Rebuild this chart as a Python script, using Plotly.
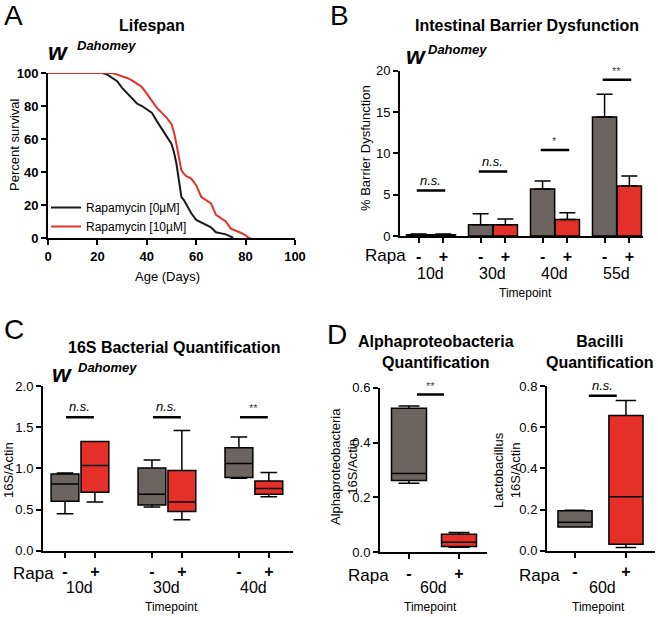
import plotly.graph_objects as go

W, H = 658, 617
FONT = "Liberation Sans, Arial, sans-serif"
GRIS = "#6b6461"
ROJO = "#e5302a"

# ---------------------------
# DATOS
# ---------------------------
# A. Supervivencia (edad en días, % supervivencia)
edad_0 = [0, 22, 24, 26, 28, 30, 32, 34, 36, 38, 40, 42, 44, 46, 48, 50, 51, 52,
          53, 54, 55, 56, 58, 60, 62, 64, 66, 68, 70, 72, 74, 75]
superv_0 = [100, 100, 99, 97, 95, 91, 88, 85, 81.5, 80, 78, 76, 71, 66.5, 62, 57, 52, 45,
            35, 25, 23, 20, 15, 11, 9.5, 8.5, 6.5, 3.5, 2.8, 2.2, 0.8, 0]
edad_10 = [0, 26, 28, 30, 32, 34, 36, 38, 40, 42, 44, 46, 48, 50, 51, 52, 53, 54, 55,
           56, 58, 60, 62, 64, 66, 68, 70, 72, 74, 76, 78, 80, 81, 82]
superv_10 = [100, 100, 99, 98, 97, 95.5, 93.5, 91.5, 87.5, 83.5, 79, 76, 73, 69, 64, 57, 48, 41, 39,
             37.5, 36, 32, 25, 23, 21, 14, 12, 10, 5.7, 4.6, 3.2, 1.6, 0.3, 0]

# B. Disfunción de barrera
tiempos_b = ["10d", "30d", "40d", "55d"]
barrera_ctrl = [0.15, 1.35, 5.7, 14.4]
barrera_ctrl_err = [0.1, 1.35, 0.95, 2.75]
barrera_rapa = [0.15, 1.35, 2.0, 6.05]
barrera_rapa_err = [0.1, 0.7, 0.8, 1.2]
sig_b = ["n.s.", "n.s.", "*", "**"]
sig_b_y = [5.5, 7.8, 10.4, 18.9]

# C. 16S (min, q1, mediana, q3, max)
tiempos_c = ["10d", "30d", "40d"]
c_ctrl_min = [0.45, 0.53, 0.88]
c_ctrl_q1 = [0.60, 0.555, 0.89]
c_ctrl_med = [0.81, 0.685, 1.06]
c_ctrl_q3 = [0.93, 1.005, 1.25]
c_ctrl_max = [0.945, 1.10, 1.38]
c_rapa_min = [0.59, 0.375, 0.655]
c_rapa_q1 = [0.71, 0.475, 0.685]
c_rapa_med = [1.035, 0.59, 0.755]
c_rapa_q3 = [1.325, 0.975, 0.845]
c_rapa_max = [1.325, 1.46, 0.95]
sig_c = ["n.s.", "n.s.", "**"]
sig_c_y = [1.62, 1.62, 1.62]

# D. 60d (min, q1, mediana, q3, max)
alfa_ctrl = [0.252, 0.262, 0.287, 0.525, 0.533]
alfa_rapa = [0.018, 0.021, 0.037, 0.066, 0.072]
bac_ctrl = [0.115, 0.115, 0.138, 0.194, 0.196]
bac_rapa = [0.016, 0.031, 0.262, 0.657, 0.729]


def px(x):
    return x / W


def py(y):
    return 1 - y / H


def eje(**kw):
    d = dict(showline=True, linecolor="black", linewidth=2, ticks="outside", ticklen=5,
             tickwidth=2, tickcolor="black", showgrid=False, zeroline=False, automargin=False,
             tickfont=dict(family=FONT, size=13, color="black"))
    d.update(kw)
    return d


anots = []
formas = []


def texto(t, x, y, size=12, bold=False, italic=False, xref="paper", yref="paper",
          angle=0, color="black", **kw):
    if xref == "paper":
        x = px(x)
    if yref == "paper":
        y = py(y)
    a = dict(text=t, x=x, y=y, xref=xref, yref=yref, showarrow=False,
             textangle=angle, xanchor="center", yanchor="middle",
             font=dict(family=FONT, size=size, color=color,
                       weight="bold" if bold else "normal",
                       style="italic" if italic else "normal"))
    a.update(kw)
    anots.append(a)


def linea_sig(x0, x1, y, ejx, ejy):
    formas.append(dict(type="line", x0=x0, x1=x1, y0=y, y1=y, xref=ejx, yref=ejy,
                       line=dict(color="black", width=2.5)))


fig = go.Figure()

# ---------------------------
# A. LIFESPAN
# ---------------------------
fig.add_trace(go.Scatter(x=edad_0, y=superv_0, mode="lines", name="Rapamycin [0µM]",
                         line=dict(color="#1a1a1a", width=2), xaxis="x", yaxis="y"))
fig.add_trace(go.Scatter(x=edad_10, y=superv_10, mode="lines", name="Rapamycin [10µM]",
                         line=dict(color=ROJO, width=2), xaxis="x", yaxis="y"))

# ---------------------------
# B. BARRERA
# ---------------------------
gb = list(range(len(tiempos_b)))
fig.add_trace(go.Bar(x=[g - 0.2 for g in gb], y=barrera_ctrl, width=0.39,
                     marker=dict(color=GRIS, line=dict(color="black", width=1.5)),
                     error_y=dict(type="data", symmetric=False, array=barrera_ctrl_err,
                                  arrayminus=[0] * len(gb), color="black", thickness=1.5, width=8),
                     xaxis="x2", yaxis="y2", showlegend=False))
fig.add_trace(go.Bar(x=[g + 0.2 for g in gb], y=barrera_rapa, width=0.39,
                     marker=dict(color=ROJO, line=dict(color="black", width=1.5)),
                     error_y=dict(type="data", symmetric=False, array=barrera_rapa_err,
                                  arrayminus=[0] * len(gb), color="black", thickness=1.5, width=8),
                     xaxis="x2", yaxis="y2", showlegend=False))
for g, s, yy in zip(gb, sig_b, sig_b_y):
    linea_sig(g - 0.23, g + 0.23, yy, "x2", "y2")
    texto(s, g, yy, size=13 if s == "n.s." else 11, italic=(s == "n.s."),
          xref="x2", yref="y2", yanchor="bottom", yshift=1,
          color="black" if s == "n.s." else "#444")


# ---------------------------
# C y D. CAJAS
# ---------------------------
def caja(x, mn, q1, med, q3, mx, color, ejx, ejy, ancho):
    fig.add_trace(go.Box(x=x, lowerfence=mn, q1=q1, median=med, q3=q3, upperfence=mx,
                         width=ancho, fillcolor=color, whiskerwidth=0.6, boxpoints=False,
                         line=dict(color="black", width=1.5), xaxis=ejx, yaxis=ejy,
                         showlegend=False, hoverinfo="skip"))


gc = list(range(len(tiempos_c)))
caja([g - 0.172 for g in gc], c_ctrl_min, c_ctrl_q1, c_ctrl_med, c_ctrl_q3, c_ctrl_max,
     GRIS, "x3", "y3", 0.32)
caja([g + 0.172 for g in gc], c_rapa_min, c_rapa_q1, c_rapa_med, c_rapa_q3, c_rapa_max,
     ROJO, "x3", "y3", 0.32)
for g, s, yy in zip(gc, sig_c, sig_c_y):
    linea_sig(g - 0.16, g + 0.16, yy, "x3", "y3")
    texto(s, g, yy, size=13 if s == "n.s." else 11, italic=(s == "n.s."),
          xref="x3", yref="y3", yanchor="bottom", yshift=1,
          color="black" if s == "n.s." else "#444")

caja([0], *[[v] for v in alfa_ctrl], GRIS, "x4", "y4", 0.7)
caja([1], *[[v] for v in alfa_rapa], ROJO, "x4", "y4", 0.7)
linea_sig(0.16, 0.7, 0.575, "x4", "y4")
texto("**", 0.43, 0.575, size=11, xref="x4", yref="y4", yanchor="bottom", yshift=1, color="#444")

caja([0], *[[v] for v in bac_ctrl], GRIS, "x5", "y5", 0.67)
caja([1], *[[v] for v in bac_rapa], ROJO, "x5", "y5", 0.67)
linea_sig(0.27, 0.82, 0.753, "x5", "y5")
texto("n.s.", 0.545, 0.753, size=13, italic=True, xref="x5", yref="y5", yanchor="bottom", yshift=1)

# ---------------------------
# TEXTOS
# ---------------------------
for letra, x, y in [("A", 13, 16), ("B", 339, 16), ("C", 14, 329), ("D", 337, 334)]:
    texto(letra, x, y, size=28)

texto("Lifespan", 152, 25, size=16, bold=True)
texto("Intestinal Barrier Dysfunction", 527, 25, size=16, bold=True)
texto("16S Bacterial Quantification", 174, 347, size=16, bold=True)
texto("Alphaproteobacteria<br>Quantification", 436, 352, size=16, bold=True)
texto("Bacilli<br>Quantification", 600, 352, size=16, bold=True)

for wx, wy, dx, dy in [(58, 51, 106, 46), (416, 55, 457, 49), (62, 373, 107, 367)]:
    texto("w", wx, wy, size=24, bold=True, italic=True)
    texto("Dahomey", dx, dy, size=13, bold=True, italic=True)

texto("Percent survival", 14, 145, size=13, angle=-90)
texto("Age (Days)", 167, 276, size=13)
texto("% Barrier Dysfunction", 365, 148, size=13, angle=-90)
texto("16S/Actin", 8, 470, size=13, angle=-90)
texto("Alphaproteobacteria<br>16S/Actin", 344, 467, size=13, angle=-90)
texto("Lactobacillus<br>16S/Actin", 507, 470, size=13, angle=-90)

for x, y in [(385, 255), (33, 573), (368, 575), (539, 575)]:
    texto("Rapa", x, y, size=17)
for g, t in zip(gb, tiempos_b):
    texto(t, g, 273, size=16, xref="x2")
for g, t in zip(gc, tiempos_c):
    texto(t, g, 587, size=16, xref="x3")
texto("60d", 433, 587, size=16)
texto("60d", 602, 587, size=16)
for x, y in [(525, 293), (171, 607), (430, 607), (598, 607)]:
    texto("Timepoint", x, y, size=12)

# ---------------------------
# EJES
# ---------------------------
negrita = dict(family=FONT, size=13, color="black", weight="bold")
signos = dict(family=FONT, size=16, color="black", weight="bold")

fig.update_layout(
    width=W, height=H, margin=dict(l=0, r=0, t=0, b=0, autoexpand=False),
    paper_bgcolor="white", plot_bgcolor="white", barmode="overlay", boxmode="overlay",
    font=dict(family=FONT, color="black"),
    xaxis=eje(domain=[px(48), px(295)], range=[0, 100], dtick=20, tickfont=negrita, anchor="y"),
    yaxis=eje(domain=[py(238), py(73)], range=[0, 100], dtick=20, tickfont=negrita, anchor="x"),
    xaxis2=eje(domain=[px(400), px(643)], range=[-0.5, 3.42], anchor="y2",
               tickvals=[g - 0.2 for g in gb] + [g + 0.2 for g in gb],
               ticktext=["-"] * len(gb) + ["+"] * len(gb), tickfont=signos),
    yaxis2=eje(domain=[py(236), py(70.7)], range=[0, 20], dtick=5, anchor="x2"),
    xaxis3=eje(domain=[px(43), px(293)], range=[-0.425, 2.45], anchor="y3",
               tickvals=[g - 0.172 for g in gc] + [g + 0.172 for g in gc],
               ticktext=["-"] * len(gc) + ["+"] * len(gc), tickfont=signos),
    yaxis3=eje(domain=[py(550.7), py(386)], range=[0, 2], dtick=0.5, tickformat=".1f", anchor="x3"),
    xaxis4=eje(domain=[px(380), px(487)], range=[-0.58, 1.56], anchor="y4",
               tickvals=[0, 1], ticktext=["-", "+"], tickfont=signos),
    yaxis4=eje(domain=[py(552.3), py(387.7)], range=[0, 0.6], dtick=0.2, tickformat=".1f", anchor="x4"),
    xaxis5=eje(domain=[px(547), px(655)], range=[-0.55, 1.57], anchor="y5",
               tickvals=[0, 1], ticktext=["-", "+"], tickfont=signos),
    yaxis5=eje(domain=[py(550.7), py(386)], range=[0, 0.8], dtick=0.2, tickformat=".1f", anchor="x5"),
    legend=dict(x=px(46), y=py(193), xanchor="left", yanchor="top", bgcolor="rgba(0,0,0,0)",
                font=dict(family=FONT, size=12, color="black"), tracegroupgap=0),
    annotations=anots, shapes=formas,
)

# el body del html trae 8px de margen por defecto
fig.write_html("out.html", config={"displayModeBar": False},
               post_script="document.body.style.margin='0';")
